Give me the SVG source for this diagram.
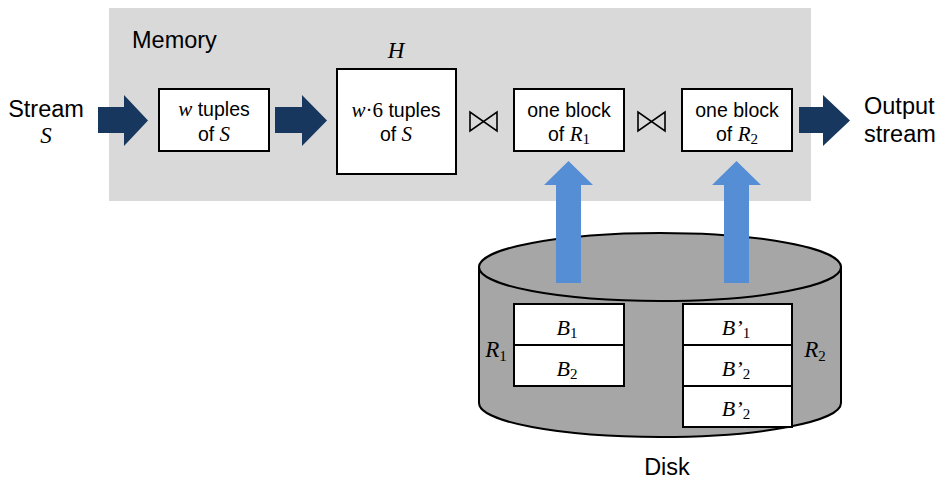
<svg xmlns="http://www.w3.org/2000/svg" width="941" height="479" viewBox="0 0 941 479">
  <style>
    .sans { font-family: "Liberation Sans", Arial, sans-serif; font-size: 23.5px; fill: #000; }
    .box-t { font-family: "Liberation Sans", Arial, sans-serif; font-size: 19.5px; fill: #000; text-anchor: middle; }
    .it { font-family: "Liberation Serif", "Times New Roman", serif; font-style: italic; }
    .sub { font-family: "Liberation Serif", "Times New Roman", serif; font-style: normal; font-size: 15px; }
    .box { fill: #fff; stroke: #000; stroke-width: 2; }
    .dark { fill: #17375e; }
    .blue { fill: #558ed5; }
    .join { fill: none; stroke: #000; stroke-width: 1.6; stroke-linejoin: miter; }
  </style>

  <!-- memory area -->
  <g id="memory">
    <rect x="109" y="8" width="702" height="193" fill="#d9d9d9"/>
    <text class="sans" x="132" y="48">Memory</text>
  </g>

  <!-- disk cylinder -->
  <g id="disk">
    <path d="M479,267 L479,403 A181,34 0 0 0 841,403 L841,267 Z" fill="#a6a6a6" stroke="#000" stroke-width="2"/>
    <ellipse cx="660" cy="267" rx="181" ry="34" fill="#a6a6a6" stroke="#000" stroke-width="2"/>
    <text class="sans" x="667" y="475" text-anchor="middle">Disk</text>
  </g>

  <!-- input label -->
  <g id="stream-in">
    <text class="sans" x="46" y="117" text-anchor="middle">Stream</text>
    <text class="it" x="46" y="143" font-size="23" text-anchor="middle">S</text>
  </g>

  <g id="window">
    <rect class="box" x="159" y="89" width="110" height="62"/>
    <text class="box-t" x="214" y="116"><tspan class="it" font-size="21">w</tspan> tuples</text>
    <text class="box-t" x="214" y="141">of <tspan class="it" font-size="21">S</tspan></text>
  </g>

  <g id="hash">
    <text class="it" x="396" y="58" font-size="23" text-anchor="middle">H</text>
    <rect class="box" x="337" y="69" width="119" height="105"/>
    <text class="box-t" x="396" y="117"><tspan class="it" font-size="21">w</tspan><tspan font-family="Liberation Serif, serif" font-size="21">·6</tspan> tuples</text>
    <text class="box-t" x="396" y="141">of <tspan class="it" font-size="21">S</tspan></text>
  </g>

  <g id="block-r1">
    <rect class="box" x="514" y="89" width="110" height="62"/>
    <text class="box-t" x="569" y="117">one block</text>
    <text class="box-t" x="569" y="141">of <tspan class="it" font-size="21">R</tspan><tspan class="sub" dy="3">1</tspan></text>
  </g>

  <g id="block-r2">
    <rect class="box" x="682" y="89" width="110" height="62"/>
    <text class="box-t" x="737" y="117">one block</text>
    <text class="box-t" x="737" y="141">of <tspan class="it" font-size="21">R</tspan><tspan class="sub" dy="3">2</tspan></text>
  </g>

  <!-- join operators (bowtie) -->
  <g id="join1"><path class="join" d="M470,112 L470,131 L497,112 L497,131 Z"/></g>
  <g id="join2"><path class="join" d="M638,112 L638,131 L665,112 L665,131 Z"/></g>

  <g id="output">
    <text class="sans" x="864" y="114">Output</text>
    <text class="sans" x="864" y="142">stream</text>
  </g>

  <!-- relation R1 on disk -->
  <g id="r1">
    <rect class="box" x="514" y="304" width="110" height="41"/>
    <rect class="box" x="514" y="345" width="110" height="41"/>
    <text class="it" x="567" y="335" font-size="22" text-anchor="middle">B<tspan class="sub" dy="3">1</tspan></text>
    <text class="it" x="567" y="376" font-size="22" text-anchor="middle">B<tspan class="sub" dy="3">2</tspan></text>
    <text class="it" x="496" y="357" font-size="23" text-anchor="middle">R<tspan class="sub" font-size="16" dy="4">1</tspan></text>
  </g>

  <!-- relation R2 on disk -->
  <g id="r2">
    <rect class="box" x="683" y="304" width="109" height="41"/>
    <rect class="box" x="683" y="345" width="109" height="41"/>
    <rect class="box" x="683" y="386" width="109" height="41"/>
    <text class="it" x="736" y="335" font-size="22" text-anchor="middle">B’<tspan class="sub" dy="3">1</tspan></text>
    <text class="it" x="736" y="376" font-size="22" text-anchor="middle">B’<tspan class="sub" dy="3">2</tspan></text>
    <text class="it" x="736" y="416" font-size="22" text-anchor="middle">B’<tspan class="sub" dy="3">2</tspan></text>
    <text class="it" x="815" y="357" font-size="23" text-anchor="middle">R<tspan class="sub" font-size="16" dy="4">2</tspan></text>
  </g>

  <!-- connectors: block arrows -->
  <g id="connectors">
    <polygon class="dark" points="98,107 124,107 124,95 148,120.5 124,146 124,133 98,133"/>
    <polygon class="dark" points="275,107 302,107 302,95 327,120.5 302,146 302,133 275,133"/>
    <polygon class="dark" points="799,107 823,107 823,95 850,120.5 823,146 823,133 799,133"/>
    <polygon class="blue" points="556,283 556,185 544,185 568.5,161 593,185 581,185 581,283"/>
    <polygon class="blue" points="724,283 724,185 712,185 736.5,161 761,185 749,185 749,283"/>
  </g>
</svg>
